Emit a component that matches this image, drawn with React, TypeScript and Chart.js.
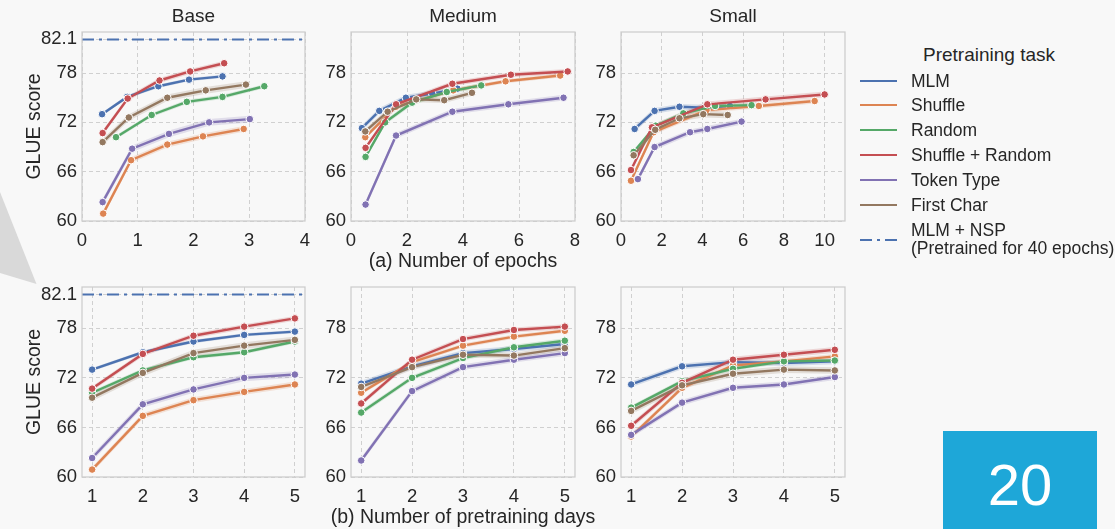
import React, { useEffect, useRef } from "react";
import { Chart, registerables } from "chart.js";

Chart.register(...registerables);

// ---------------- data ----------------
const TASKS = ["MLM", "Shuffle", "Random", "Shuffle + Random", "Token Type", "First Char"];
const NSP_LABEL = "MLM + NSP";
const NSP_NOTE = "(Pretrained for 40 epochs)";
const NSP_SCORE = 82.1;
const SIZES = ["Base", "Medium", "Small"];
const LEGEND_TITLE = "Pretraining task";
const Y_LABEL = "GLUE score";
const X_LABEL_EPOCHS = "(a) Number of epochs";
const X_LABEL_DAYS = "(b) Number of pretraining days";
const SLIDE_NUMBER = "20";

const DAYS = [1, 2, 3, 4, 5];
const DAY_RANGE = [0.8, 5.2];
const Y_TICKS = [60, 66, 72, 78];
const Y_RANGE = [60, 83];
const BASE_EPOCH_TICKS = [0, 1, 2, 3, 4];
const MEDIUM_EPOCH_TICKS = [0, 2, 4, 6, 8];
const SMALL_EPOCH_TICKS = [0, 2, 4, 6, 8, 10];
const BASE_EPOCH_RANGE = [0, 4];
const MEDIUM_EPOCH_RANGE = [0, 8];
const SMALL_EPOCH_RANGE = [0, 11];

// GLUE score after each pretraining day (rows follow TASKS)
const BASE_SCORES = [
  [73.0, 75.1, 76.4, 77.2, 77.6],
  [60.9, 67.4, 69.3, 70.3, 71.2],
  [70.2, 72.9, 74.5, 75.1, 76.4],
  [70.7, 74.9, 77.1, 78.2, 79.2],
  [62.3, 68.8, 70.6, 72.0, 72.4],
  [69.6, 72.6, 75.0, 75.9, 76.6],
];
const MEDIUM_SCORES = [
  [71.3, 73.4, 75.0, 75.5, 76.1],
  [70.2, 73.9, 75.9, 77.0, 77.7],
  [67.8, 72.0, 74.4, 75.7, 76.5],
  [68.9, 74.2, 76.7, 77.8, 78.2],
  [62.0, 70.4, 73.3, 74.2, 75.0],
  [70.9, 73.3, 74.8, 74.7, 75.6],
];
const SMALL_SCORES = [
  [71.2, 73.4, 73.9, 73.8, 74.0],
  [64.9, 70.8, 73.5, 74.0, 74.6],
  [68.4, 71.6, 73.1, 74.0, 74.1],
  [66.2, 71.4, 74.2, 74.8, 75.4],
  [65.1, 69.0, 70.8, 71.2, 72.1],
  [68.0, 71.1, 72.5, 73.0, 72.9],
];

// epochs reached after each pretraining day
const BASE_EPOCHS = [
  [0.36, 0.81, 1.37, 1.92, 2.52],
  [0.38, 0.88, 1.53, 2.17, 2.9],
  [0.61, 1.25, 1.88, 2.52, 3.27],
  [0.37, 0.82, 1.39, 1.94, 2.55],
  [0.37, 0.9, 1.56, 2.28, 3.01],
  [0.37, 0.84, 1.53, 2.22, 2.94],
];
const MEDIUM_EPOCHS = [
  [0.39, 1.01, 1.96, 2.9, 3.8],
  [0.51, 1.6, 3.65, 5.52, 7.47],
  [0.52, 1.22, 2.18, 3.42, 4.65],
  [0.52, 1.61, 3.62, 5.71, 7.74],
  [0.52, 1.61, 3.62, 5.62, 7.59],
  [0.51, 1.31, 2.33, 3.33, 4.32],
];
const SMALL_EPOCHS = [
  [0.67, 1.65, 2.87, 4.1, 5.35],
  [0.49, 1.6, 4.2, 6.77, 9.51],
  [0.62, 1.7, 3.06, 4.62, 6.41],
  [0.49, 1.52, 4.24, 7.1, 10.0],
  [0.83, 1.65, 3.39, 4.24, 5.92],
  [0.62, 1.68, 2.87, 4.04, 5.24],
];

// half-width of the shaded confidence band per task
const BASE_CI = [0.2, 0.35, 0.25, 0.3, 0.4, 0.4];
const MEDIUM_CI = [0.35, 0.25, 0.3, 0.3, 0.35, 0.35];
const SMALL_CI = [0.35, 0.3, 0.25, 0.35, 0.35, 0.4];

// ---------------- style ----------------
const COLORS = ["#4c72b0", "#dd8452", "#55a868", "#c44e52", "#8172b3", "#937860"];
const FONT = "'Liberation Sans', Arial, Helvetica, sans-serif";
const TEXT = "#262626";
const GRID = "#d0d0d0";
const SPINE = "#cccccc";
const BG = "#f8f8f8";
const NSP_DASH = [12, 5, 3, 5];
const TICK_SIZE = 18.5;
const LABEL_SIZE = 19.5;
const TITLE_SIZE = 19;

const PLOT_LEFT = [82, 351, 621];
const PLOT_RIGHT = [305, 575, 845];
const PLOT_TOP = [32, 287];
const PLOT_BOTTOM = [221, 477];
const PAD_TOP = [32, 20];
const Y_AXIS_W = [82, 40, 40];
const PAD_RIGHT = [17, 30, 17];
const X_AXIS_H = 55;

function rgba(hex: string, a: number) {
  const n = parseInt(hex.slice(1), 16);
  return `rgba(${(n >> 16) & 255},${(n >> 8) & 255},${n & 255},${a})`;
}

type Spec = {
  row: number;
  col: number;
  xs: number[][];
  ys: number[][];
  ci: number[];
  xTicks: number[];
  xRange: number[];
  yTicks: number[];
  title: string | null;
  xTitle: string | null;
  yTitle: string | null;
  nsp: boolean;
};

function buildDatasets(spec: Spec) {
  const ds: any[] = [];
  spec.ys.forEach((row, i) => {
    ds.push({
      data: row.map((y, j) => ({ x: spec.xs[i][j], y: y + spec.ci[i] })),
      borderColor: "transparent",
      borderWidth: 0,
      pointRadius: 0,
      fill: false,
      order: 50,
    });
    ds.push({
      data: row.map((y, j) => ({ x: spec.xs[i][j], y: y - spec.ci[i] })),
      borderColor: "transparent",
      borderWidth: 0,
      pointRadius: 0,
      fill: "-1",
      backgroundColor: rgba(COLORS[i], 0.2),
      order: 50,
    });
  });
  spec.ys.forEach((row, i) => {
    ds.push({
      label: TASKS[i],
      data: row.map((y, j) => ({ x: spec.xs[i][j], y })),
      borderColor: COLORS[i],
      backgroundColor: COLORS[i],
      borderWidth: 2.4,
      pointRadius: 3.8,
      pointBorderColor: "#ffffff",
      pointBorderWidth: 1,
      pointBackgroundColor: COLORS[i],
      fill: false,
      order: 10 - i,
    });
  });
  if (spec.nsp) {
    ds.push({
      label: NSP_LABEL,
      data: [
        { x: spec.xRange[0], y: NSP_SCORE },
        { x: spec.xRange[1], y: NSP_SCORE },
      ],
      borderColor: COLORS[0],
      borderWidth: 2,
      borderDash: NSP_DASH,
      pointRadius: 0,
      fill: false,
      order: 0,
    });
  }
  return ds;
}

function buildConfig(spec: Spec): any {
  const c = spec.col;
  const textPlugin = {
    id: "panelText",
    afterDraw(chart: any) {
      const { ctx, chartArea: a } = chart;
      ctx.save();
      ctx.strokeStyle = SPINE;
      ctx.lineWidth = 1.25;
      ctx.strokeRect(a.left, a.top, a.right - a.left, a.bottom - a.top);
      ctx.fillStyle = TEXT;
      ctx.textAlign = "center";
      ctx.textBaseline = "middle";
      const cx = (a.left + a.right) / 2;
      if (spec.title) {
        ctx.font = `${TITLE_SIZE}px ${FONT}`;
        ctx.fillText(spec.title, cx, a.top - 15);
      }
      if (spec.xTitle) {
        ctx.font = `${LABEL_SIZE}px ${FONT}`;
        ctx.fillText(spec.xTitle, cx, a.bottom + 41);
      }
      if (spec.yTitle) {
        ctx.font = `${LABEL_SIZE}px ${FONT}`;
        ctx.translate(a.left - 47.5, (a.top + a.bottom) / 2);
        ctx.rotate(-Math.PI / 2);
        ctx.fillText(spec.yTitle, 0, 0);
      }
      ctx.restore();
    },
  };
  return {
    type: "line",
    data: { datasets: buildDatasets(spec) },
    plugins: [textPlugin],
    options: {
      animation: false,
      responsive: false,
      maintainAspectRatio: false,
      events: [],
      layout: { padding: { top: PAD_TOP[spec.row], right: PAD_RIGHT[c], left: 0, bottom: 0 } },
      plugins: {
        legend: { display: false },
        tooltip: { enabled: false },
        title: { display: false },
      },
      scales: {
        x: {
          type: "linear",
          min: spec.xRange[0],
          max: spec.xRange[1],
          afterBuildTicks: (s: any) => {
            s.ticks = spec.xTicks.map((v) => ({ value: v }));
          },
          afterFit: (s: any) => {
            s.height = X_AXIS_H;
          },
          grid: { color: GRID, lineWidth: 1, drawTicks: false },
          border: { display: false, dash: [4, 3] },
          ticks: {
            padding: 9,
            color: TEXT,
            font: { family: FONT, size: TICK_SIZE },
            autoSkip: false,
            maxRotation: 0,
            callback: (v: any) => String(v),
          },
        },
        y: {
          type: "linear",
          min: Y_RANGE[0],
          max: Y_RANGE[1],
          afterBuildTicks: (s: any) => {
            s.ticks = spec.yTicks.map((v) => ({ value: v }));
          },
          afterFit: (s: any) => {
            s.width = Y_AXIS_W[c];
          },
          grid: { color: GRID, lineWidth: 1, drawTicks: false },
          border: { display: false, dash: [4, 3] },
          ticks: {
            padding: 5,
            color: TEXT,
            font: { family: FONT, size: TICK_SIZE },
            autoSkip: false,
            callback: (v: any) => String(v),
          },
        },
      },
    },
  };
}

function Panel({ spec }: { spec: Spec }) {
  const ref = useRef<HTMLCanvasElement | null>(null);
  const r = spec.row;
  const c = spec.col;
  const left = PLOT_LEFT[c] - Y_AXIS_W[c];
  const top = PLOT_TOP[r] - PAD_TOP[r];
  const width = Y_AXIS_W[c] + (PLOT_RIGHT[c] - PLOT_LEFT[c]) + PAD_RIGHT[c];
  const height = PAD_TOP[r] + (PLOT_BOTTOM[r] - PLOT_TOP[r]) + X_AXIS_H;
  useEffect(() => {
    if (!ref.current) return;
    const chart = new Chart(ref.current, buildConfig(spec));
    return () => chart.destroy();
  }, [spec]);
  return (
    <canvas
      ref={ref}
      width={width}
      height={height}
      style={{ position: "absolute", left, top, width, height }}
    />
  );
}

const SCORES = [BASE_SCORES, MEDIUM_SCORES, SMALL_SCORES];
const EPOCHS = [BASE_EPOCHS, MEDIUM_EPOCHS, SMALL_EPOCHS];
const CIS = [BASE_CI, MEDIUM_CI, SMALL_CI];
const EPOCH_TICKS = [BASE_EPOCH_TICKS, MEDIUM_EPOCH_TICKS, SMALL_EPOCH_TICKS];
const EPOCH_RANGES = [BASE_EPOCH_RANGE, MEDIUM_EPOCH_RANGE, SMALL_EPOCH_RANGE];

const SPECS: Spec[] = [];
for (let row = 0; row < 2; row++) {
  for (let col = 0; col < 3; col++) {
    SPECS.push({
      row,
      col,
      xs: row === 0 ? EPOCHS[col] : TASKS.map(() => DAYS),
      ys: SCORES[col],
      ci: CIS[col],
      xTicks: row === 0 ? EPOCH_TICKS[col] : DAYS,
      xRange: row === 0 ? EPOCH_RANGES[col] : DAY_RANGE,
      yTicks: col === 0 ? [...Y_TICKS, NSP_SCORE] : Y_TICKS,
      title: row === 0 ? SIZES[col] : null,
      xTitle: col === 1 ? (row === 0 ? X_LABEL_EPOCHS : X_LABEL_DAYS) : null,
      yTitle: col === 0 ? Y_LABEL : null,
      nsp: col === 0,
    });
  }
}

const LEGEND_ROW0 = 80.5;
const LEGEND_STEP = 24.9;

export default function App() {
  return (
    <div
      style={{
        position: "fixed",
        left: 0,
        top: 0,
        width: 1115,
        height: 529,
        overflow: "hidden",
        background: BG,
        fontFamily: FONT,
        color: TEXT,
      }}
    >
      <svg width={1115} height={529} style={{ position: "absolute", left: 0, top: 0 }}>
        <polygon points="0,192 36.5,284 0,273" fill="#d9d9d9" />
      </svg>
      {SPECS.map((s) => (
        <Panel key={`${s.row}-${s.col}`} spec={s} />
      ))}
      <div
        style={{
          position: "absolute",
          left: 900,
          top: 43,
          width: 178,
          textAlign: "center",
          fontSize: 19,
          lineHeight: "24px",
          whiteSpace: "nowrap",
        }}
      >
        {LEGEND_TITLE}
      </div>
      {TASKS.map((t, i) => (
        <React.Fragment key={t}>
          <div
            style={{
              position: "absolute",
              left: 860,
              top: LEGEND_ROW0 + i * LEGEND_STEP - 1,
              width: 37,
              height: 2,
              background: COLORS[i],
            }}
          />
          <div
            style={{
              position: "absolute",
              left: 911,
              top: LEGEND_ROW0 + i * LEGEND_STEP - 12,
              fontSize: 17.5,
              lineHeight: "24px",
              whiteSpace: "nowrap",
            }}
          >
            {t}
          </div>
        </React.Fragment>
      ))}
      <svg width={40} height={10} style={{ position: "absolute", left: 860, top: 235 }}>
        <line x1={0} y1={5} x2={37} y2={5} stroke={COLORS[0]} strokeWidth={2} strokeDasharray={NSP_DASH.join(" ")} />
      </svg>
      <div
        style={{
          position: "absolute",
          left: 911,
          top: 220.5,
          fontSize: 17.5,
          lineHeight: "18.4px",
          whiteSpace: "nowrap",
        }}
      >
        <div>{NSP_LABEL}</div>
        <div>{NSP_NOTE}</div>
      </div>
      <div
        style={{
          position: "absolute",
          left: 943,
          top: 431,
          width: 154,
          height: 98,
          background: "#1ea7d8",
          color: "#ffffff",
          fontSize: 58,
          lineHeight: "108px",
          textAlign: "center",
        }}
      >
        {SLIDE_NUMBER}
      </div>
    </div>
  );
}
